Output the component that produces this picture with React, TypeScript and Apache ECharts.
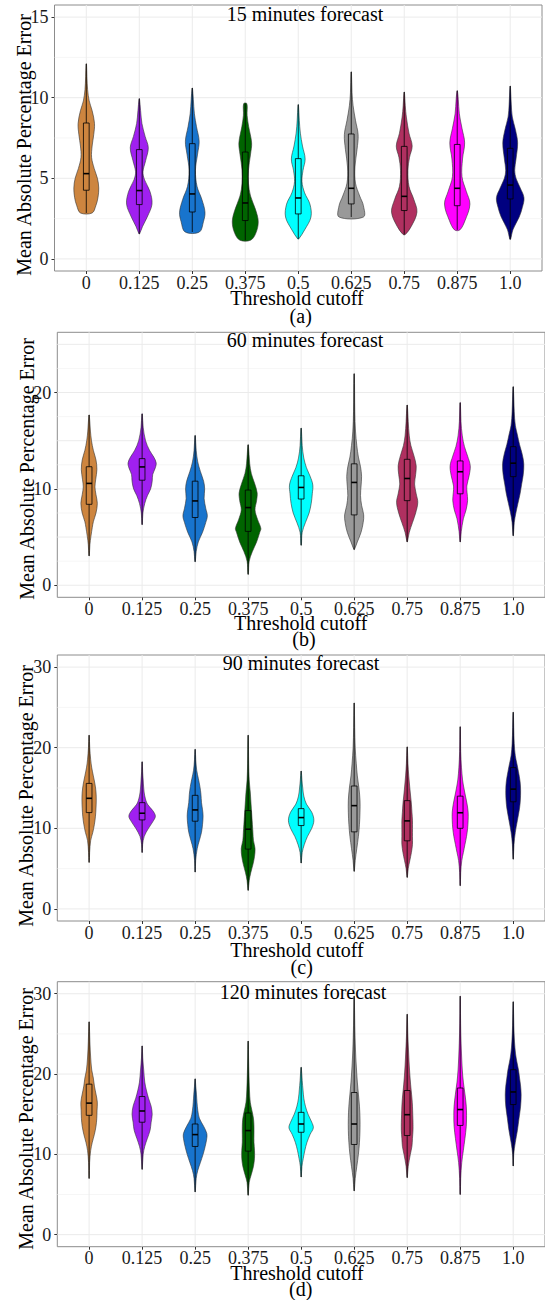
import React, { useEffect, useRef } from "react";
import * as echarts from "echarts";

const categories = ["0", "0.125", "0.25", "0.375", "0.5", "0.625", "0.75", "0.875", "1.0"];
const fills = ["#CD853F", "#A020F0", "#1874CD", "#006400", "#00FFFF", "#999999", "#B03060", "#FF00FF", "#000080"];

// box stats: [min, q1, median, q3, max]
const box15 = [
  [2.85, 4.26, 5.29, 8.43, 12.1],
  [1.55, 3.37, 4.24, 6.78, 9.94],
  [1.67, 2.91, 4.03, 7.15, 10.6],
  [1.16, 2.38, 3.47, 6.63, 9.63],
  [1.24, 2.79, 3.78, 6.22, 9.57],
  [2.6, 3.41, 4.38, 7.75, 11.6],
  [1.51, 3.0, 3.88, 6.98, 10.35],
  [1.8, 3.3, 4.38, 7.1, 10.43],
  [1.22, 3.72, 4.58, 6.86, 10.72],
];
// violin profiles: [value, half-width in category units]
const shape15 = [
  [[2.85, 0.11], [3.3, 0.18], [3.8, 0.22], [4.4, 0.235], [5.0, 0.21], [5.6, 0.15], [6.3, 0.1], [7.0, 0.11], [7.7, 0.14], [8.4, 0.155], [9.2, 0.11], [9.8, 0.055], [10.5, 0.025], [11.3, 0.012], [12.1, 0.004]],
  [[1.55, 0.005], [2.0, 0.06], [2.6, 0.15], [3.4, 0.24], [4.2, 0.2], [4.9, 0.1], [5.4, 0.07], [6.1, 0.12], [6.9, 0.17], [7.6, 0.11], [8.4, 0.05], [9.2, 0.025], [9.94, 0.004]],
  [[1.67, 0.135], [2.3, 0.21], [2.9, 0.24], [3.7, 0.18], [4.5, 0.09], [5.5, 0.06], [6.5, 0.1], [7.3, 0.13], [8.2, 0.08], [9.0, 0.04], [9.9, 0.02], [10.6, 0.004]],
  [[1.16, 0.1], [1.6, 0.2], [2.3, 0.245], [3.0, 0.2], [3.9, 0.1], [4.7, 0.06], [5.5, 0.06], [6.5, 0.1], [7.2, 0.12], [8.2, 0.065], [8.9, 0.035], [9.63, 0.03]],
  [[1.24, 0.01], [1.8, 0.12], [2.6, 0.24], [3.4, 0.22], [4.1, 0.12], [4.8, 0.07], [5.5, 0.09], [6.2, 0.13], [7.0, 0.08], [7.8, 0.04], [8.6, 0.02], [9.57, 0.004]],
  [[2.6, 0.23], [3.3, 0.23], [3.9, 0.16], [4.7, 0.08], [5.7, 0.07], [6.8, 0.11], [7.7, 0.13], [8.6, 0.08], [9.5, 0.035], [10.3, 0.015], [11.6, 0.004]],
  [[1.51, 0.02], [2.0, 0.13], [2.9, 0.24], [3.7, 0.18], [4.5, 0.09], [5.5, 0.07], [6.3, 0.1], [7.0, 0.15], [7.8, 0.09], [8.8, 0.04], [9.5, 0.02], [10.35, 0.004]],
  [[1.8, 0.05], [2.4, 0.15], [3.4, 0.24], [4.2, 0.17], [5.1, 0.09], [6.2, 0.1], [7.2, 0.14], [8.1, 0.09], [9.0, 0.04], [9.9, 0.02], [10.43, 0.004]],
  [[1.22, 0.008], [1.8, 0.05], [2.6, 0.17], [3.2, 0.23], [3.8, 0.26], [4.4, 0.19], [5.0, 0.11], [5.5, 0.085], [6.2, 0.11], [7.2, 0.14], [8.0, 0.1], [8.8, 0.04], [9.6, 0.02], [10.72, 0.004]],
];

const box60 = [
  [3.05, 8.4, 10.57, 12.3, 17.67],
  [6.28, 10.9, 12.28, 13.14, 17.77],
  [2.44, 7.03, 8.75, 10.8, 15.54],
  [1.13, 5.59, 8.06, 9.88, 14.58],
  [4.15, 8.95, 10.15, 11.36, 16.3],
  [3.7, 7.3, 10.67, 12.6, 21.95],
  [4.5, 8.78, 11.08, 13.07, 18.7],
  [4.5, 9.49, 11.78, 12.9, 18.95],
  [5.14, 11.27, 12.67, 14.38, 20.6],
];
const shape60 = [
  [[3.05, 0.004], [4.2, 0.015], [5.1, 0.035], [6.0, 0.06], [6.6, 0.08], [7.5, 0.13], [8.5, 0.155], [9.4, 0.13], [10.2, 0.11], [11.0, 0.125], [12.0, 0.147], [13.0, 0.13], [14.0, 0.08], [15.0, 0.045], [16.0, 0.025], [17.67, 0.004]],
  [[6.3, 0.004], [7.5, 0.015], [8.5, 0.05], [9.3, 0.1], [10.0, 0.16], [10.8, 0.19], [11.5, 0.2], [12.2, 0.25], [12.7, 0.265], [13.3, 0.22], [14.0, 0.14], [15.0, 0.065], [16.4, 0.02], [17.8, 0.004]],
  [[2.44, 0.004], [3.5, 0.02], [4.5, 0.06], [5.5, 0.14], [6.5, 0.2], [7.2, 0.23], [8.0, 0.2], [9.0, 0.17], [10.0, 0.18], [10.8, 0.16], [11.8, 0.1], [12.8, 0.05], [14.0, 0.02], [15.54, 0.004]],
  [[1.13, 0.004], [2.5, 0.02], [3.5, 0.08], [4.5, 0.16], [5.5, 0.22], [5.9, 0.24], [6.8, 0.18], [7.8, 0.13], [8.8, 0.16], [9.6, 0.17], [10.6, 0.12], [11.6, 0.06], [12.6, 0.03], [14.58, 0.004]],
  [[4.15, 0.004], [5.5, 0.02], [6.5, 0.08], [7.5, 0.15], [8.5, 0.19], [9.5, 0.21], [10.4, 0.22], [11.3, 0.17], [12.2, 0.1], [13.2, 0.05], [14.5, 0.02], [16.3, 0.004]],
  [[3.7, 0.004], [4.5, 0.06], [5.5, 0.13], [6.5, 0.17], [7.3, 0.18], [8.3, 0.14], [9.3, 0.12], [10.3, 0.13], [11.3, 0.14], [12.3, 0.12], [13.3, 0.08], [14.5, 0.05], [16.0, 0.025], [18.0, 0.012], [21.95, 0.004]],
  [[4.5, 0.004], [5.5, 0.04], [6.5, 0.1], [7.5, 0.16], [8.6, 0.2], [9.5, 0.17], [10.5, 0.14], [11.5, 0.16], [12.4, 0.17], [13.4, 0.13], [14.5, 0.07], [15.5, 0.04], [17.0, 0.02], [18.7, 0.004]],
  [[4.5, 0.004], [5.55, 0.02], [6.9, 0.06], [7.8, 0.11], [8.8, 0.14], [9.6, 0.13], [10.3, 0.125], [11.4, 0.17], [12.4, 0.19], [13.4, 0.14], [14.4, 0.08], [15.5, 0.04], [17.0, 0.015], [18.95, 0.004]],
  [[5.14, 0.004], [6.5, 0.02], [7.5, 0.05], [8.5, 0.09], [9.5, 0.13], [10.5, 0.16], [11.5, 0.19], [12.6, 0.2], [13.6, 0.17], [14.6, 0.12], [15.6, 0.08], [16.6, 0.04], [18.0, 0.02], [20.6, 0.004]],
];

const box90 = [
  [5.77, 11.95, 13.72, 15.57, 21.55],
  [7.0, 11.04, 11.87, 13.18, 18.25],
  [4.57, 10.88, 12.28, 14.09, 19.8],
  [2.3, 7.42, 9.89, 12.2, 21.55],
  [5.69, 10.34, 11.33, 12.44, 17.1],
  [4.66, 9.56, 12.81, 15.25, 25.55],
  [3.91, 8.45, 10.92, 13.43, 20.1],
  [2.88, 10.0, 11.93, 13.99, 22.6],
  [6.17, 13.29, 14.86, 17.53, 24.4],
];
const shape90 = [
  [[5.77, 0.003], [7.0, 0.01], [8.5, 0.03], [9.5, 0.07], [10.5, 0.1], [11.5, 0.12], [12.5, 0.13], [13.5, 0.135], [14.5, 0.13], [15.5, 0.11], [16.5, 0.08], [17.5, 0.05], [18.5, 0.03], [20.0, 0.012], [21.55, 0.003]],
  [[7.0, 0.003], [8.0, 0.01], [9.0, 0.04], [10.0, 0.12], [10.8, 0.2], [11.5, 0.25], [12.2, 0.2], [13.0, 0.1], [14.0, 0.05], [15.0, 0.03], [16.0, 0.02], [17.0, 0.01], [18.25, 0.003]],
  [[4.57, 0.003], [6.0, 0.01], [7.5, 0.04], [8.5, 0.08], [9.5, 0.12], [10.5, 0.14], [11.5, 0.15], [12.3, 0.14], [13.2, 0.12], [14.2, 0.11], [15.2, 0.09], [16.2, 0.06], [17.2, 0.03], [18.5, 0.012], [19.8, 0.003]],
  [[2.3, 0.003], [3.5, 0.02], [4.5, 0.05], [5.5, 0.09], [6.5, 0.12], [7.5, 0.13], [8.5, 0.1], [9.5, 0.09], [10.5, 0.08], [11.5, 0.07], [12.5, 0.06], [13.5, 0.05], [14.5, 0.04], [16.0, 0.02], [18.0, 0.01], [21.55, 0.003]],
  [[5.69, 0.003], [7.0, 0.02], [8.0, 0.06], [9.0, 0.12], [10.0, 0.2], [11.0, 0.24], [12.0, 0.2], [13.0, 0.1], [14.0, 0.05], [15.0, 0.03], [16.0, 0.015], [17.1, 0.003]],
  [[4.66, 0.003], [6.0, 0.02], [7.5, 0.05], [9.0, 0.08], [10.5, 0.1], [12.0, 0.11], [13.5, 0.11], [15.0, 0.09], [16.5, 0.06], [18.0, 0.04], [20.0, 0.02], [22.5, 0.01], [25.55, 0.003]],
  [[3.91, 0.003], [5.0, 0.02], [6.0, 0.05], [7.0, 0.08], [8.0, 0.1], [9.0, 0.1], [10.0, 0.1], [11.0, 0.1], [12.0, 0.09], [13.0, 0.08], [14.0, 0.065], [15.0, 0.05], [16.5, 0.03], [18.0, 0.015], [20.1, 0.003]],
  [[2.88, 0.003], [4.5, 0.01], [6.0, 0.03], [7.0, 0.06], [8.0, 0.09], [9.0, 0.12], [10.0, 0.14], [11.0, 0.15], [12.0, 0.15], [13.0, 0.13], [14.0, 0.1], [15.0, 0.07], [16.0, 0.045], [17.5, 0.025], [19.5, 0.01], [22.6, 0.003]],
  [[6.17, 0.003], [8.0, 0.015], [9.5, 0.04], [11.0, 0.08], [12.5, 0.12], [13.5, 0.135], [14.7, 0.14], [15.8, 0.13], [17.0, 0.1], [18.0, 0.07], [19.0, 0.04], [20.5, 0.02], [22.5, 0.01], [24.4, 0.003]],
];

const box120 = [
  [7.0, 14.86, 16.38, 18.74, 26.5],
  [8.13, 14.0, 15.4, 17.2, 23.5],
  [5.32, 10.98, 12.46, 13.78, 19.4],
  [4.91, 10.4, 12.96, 15.15, 24.1],
  [7.18, 12.75, 13.78, 15.23, 20.84],
  [5.45, 11.23, 13.78, 17.7, 29.7],
  [7.1, 12.34, 14.94, 17.95, 27.45],
  [5.0, 13.6, 15.58, 18.26, 29.7],
  [8.55, 16.2, 17.77, 20.54, 29.0],
];
const shape120 = [
  [[7.0, 0.003], [9.0, 0.01], [10.5, 0.03], [11.5, 0.06], [12.5, 0.1], [13.5, 0.13], [14.5, 0.145], [15.5, 0.15], [16.5, 0.155], [17.5, 0.13], [18.5, 0.1], [19.5, 0.08], [20.5, 0.05], [22.0, 0.03], [24.0, 0.015], [26.5, 0.003]],
  [[8.13, 0.003], [10.0, 0.02], [11.0, 0.05], [12.0, 0.1], [13.0, 0.15], [14.0, 0.17], [15.0, 0.19], [16.0, 0.17], [17.0, 0.12], [18.0, 0.08], [19.0, 0.05], [20.5, 0.03], [22.0, 0.012], [23.5, 0.003]],
  [[5.32, 0.003], [7.0, 0.02], [8.0, 0.05], [9.0, 0.1], [10.0, 0.15], [11.0, 0.19], [12.0, 0.22], [12.6, 0.22], [13.5, 0.16], [14.5, 0.08], [15.5, 0.05], [16.5, 0.035], [17.5, 0.025], [18.5, 0.012], [19.4, 0.003]],
  [[4.91, 0.003], [6.5, 0.02], [7.5, 0.06], [8.5, 0.1], [9.5, 0.12], [10.5, 0.12], [11.5, 0.11], [12.5, 0.11], [13.5, 0.11], [14.5, 0.1], [15.5, 0.07], [16.5, 0.04], [18.0, 0.025], [20.0, 0.015], [22.0, 0.008], [24.1, 0.003]],
  [[7.18, 0.003], [8.5, 0.015], [9.5, 0.04], [10.5, 0.07], [11.5, 0.11], [12.5, 0.17], [13.3, 0.23], [14.0, 0.2], [15.0, 0.13], [16.0, 0.08], [17.0, 0.05], [18.0, 0.035], [19.2, 0.02], [20.84, 0.003]],
  [[5.45, 0.003], [7.0, 0.02], [8.5, 0.05], [10.0, 0.08], [11.5, 0.1], [13.0, 0.11], [14.5, 0.11], [16.0, 0.1], [17.5, 0.08], [19.0, 0.06], [21.0, 0.04], [23.0, 0.025], [26.0, 0.012], [29.7, 0.003]],
  [[7.1, 0.003], [8.5, 0.02], [10.0, 0.06], [11.0, 0.09], [12.0, 0.1], [13.0, 0.11], [14.0, 0.11], [15.0, 0.105], [16.0, 0.1], [17.0, 0.09], [18.0, 0.075], [19.5, 0.055], [21.0, 0.04], [23.0, 0.025], [25.0, 0.012], [27.45, 0.003]],
  [[5.0, 0.003], [7.0, 0.01], [9.0, 0.03], [10.5, 0.06], [12.0, 0.09], [13.5, 0.115], [14.8, 0.12], [16.0, 0.115], [17.5, 0.09], [19.0, 0.06], [20.5, 0.04], [22.5, 0.025], [25.0, 0.012], [27.5, 0.006], [29.7, 0.003]],
  [[8.55, 0.003], [10.0, 0.01], [11.5, 0.04], [13.0, 0.08], [14.5, 0.11], [16.0, 0.14], [17.4, 0.15], [18.5, 0.14], [19.5, 0.12], [20.5, 0.1], [21.5, 0.07], [22.5, 0.045], [24.0, 0.025], [26.0, 0.012], [29.0, 0.003]],
];

const titles = ["15 minutes forecast", "60 minutes forecast", "90 minutes forecast", "120 minutes forecast"];
const panelTags = ["(a)", "(b)", "(c)", "(d)"];
const yLabels = [[0, 5, 10, 15], [0, 10, 20], [0, 10, 20, 30], [0, 10, 20, 30]];
const yMajor = [[0, 5, 10, 15], [0, 5, 10, 15, 20, 25], [0, 10, 20, 30], [0, 10, 20, 30]];
const yMinor = [[2.5, 7.5, 12.5], [2.5, 7.5, 12.5, 17.5, 22.5], [5, 15, 25], [5, 15, 25]];
const yRange = [[-0.75, 15.75], [-1.25, 26.25], [-1.5, 31.5], [-1.5, 31.5]];

const boxes = [box15, box60, box90, box120];
const shapes = [shape15, shape60, shape90, shape120];

// layout (pixels)
const gridBoxes = [
  { left: 54.5, top: 5, width: 487.5, height: 266 },
  { left: 57.3, top: 332.3, width: 490, height: 265 },
  { left: 57.3, top: 655, width: 490, height: 266 },
  { left: 57.3, top: 981.7, width: 490, height: 265 },
];
const titlePos = [[305, 14], [305, 340], [301, 662.7], [303, 991.5]];
const xTitlePos = [[297, 297.5], [300.7, 622.7], [297, 950], [297, 1273.3]];
const tagPos = [[300.7, 316.3], [304, 638.5], [301.7, 967.3], [300.7, 1289]];
const yTitlePos = [[24, 145], [27, 469], [26, 796], [26, 1119]];

const FONT = '"Liberation Serif", "Times New Roman", serif';

function makeViolinRender(shape: number[][][]) {
  return (params: any, api: any) => {
    const i = api.value(0);
    const prof = shape[i];
    const unit = api.size([1, 0])[0];
    const cx = api.coord([i, 0])[0];
    const right = prof.map((p) => [cx + p[1] * unit, api.coord([i, p[0]])[1]]);
    const left = prof
      .slice()
      .reverse()
      .map((p) => [cx - p[1] * unit, api.coord([i, p[0]])[1]]);
    const yMin = api.coord([i, api.value(1)])[1];
    const yQ1 = api.coord([i, api.value(2)])[1];
    const yMed = api.coord([i, api.value(3)])[1];
    const yQ3 = api.coord([i, api.value(4)])[1];
    const yMax = api.coord([i, api.value(5)])[1];
    const bw = 0.054 * unit;
    return {
      type: "group",
      children: [
        {
          type: "polygon",
          shape: { points: right.concat(left), smooth: 0.35 },
          style: { fill: fills[i], stroke: "#333333", lineWidth: 0.6 },
        },
        {
          type: "line",
          shape: { x1: cx, y1: yMin, x2: cx, y2: yQ1 },
          style: { stroke: "#000", lineWidth: 0.8 },
        },
        {
          type: "line",
          shape: { x1: cx, y1: yQ3, x2: cx, y2: yMax },
          style: { stroke: "#000", lineWidth: 0.8 },
        },
        {
          type: "rect",
          shape: { x: cx - bw, y: yQ3, width: 2 * bw, height: yQ1 - yQ3 },
          style: { fill: "none", stroke: "#000", lineWidth: 0.8 },
        },
        {
          type: "line",
          shape: { x1: cx - bw, y1: yMed, x2: cx + bw, y2: yMed },
          style: { stroke: "#000", lineWidth: 1.6 },
        },
      ],
    };
  };
}

function gridRender(params: any, api: any) {
  const kind = api.value(0);
  const v = api.value(1);
  const cs = params.coordSys;
  if (kind < 2) {
    const y = api.coord([0, v])[1];
    return {
      type: "line",
      shape: { x1: cs.x, y1: y, x2: cs.x + cs.width, y2: y },
      style: { stroke: kind === 0 ? "#EBEBEB" : "#F2F2F2", lineWidth: kind === 0 ? 1 : 0.7 },
    };
  }
  const x = api.coord([v, 0])[0];
  return {
    type: "line",
    shape: { x1: x, y1: cs.y, x2: x, y2: cs.y + cs.height },
    style: { stroke: "#EBEBEB", lineWidth: 1 },
  };
}

export default function App() {
  const ref = useRef<HTMLDivElement>(null);
  useEffect(() => {
    if (!ref.current) return;
    const chart = echarts.init(ref.current, undefined, { renderer: "svg" });
    const catIdx = categories.map((_, i) => i);

    const grid = gridBoxes.map((g) => ({
      ...g,
      show: true,
      borderColor: "#8c8c8c",
      borderWidth: 1,
      backgroundColor: "#fff",
      containLabel: false,
    }));

    const xAxis = gridBoxes.map((_, p) => ({
      type: "value",
      gridIndex: p,
      position: "bottom",
      min: -0.6,
      max: 8.6,
      axisLine: { show: false, onZero: false },
      splitLine: { show: false },
      axisTick: { show: true, customValues: catIdx, length: 3, lineStyle: { color: "#333", width: 1 } },
      axisLabel: {
        customValues: catIdx,
        formatter: (v: number) => categories[Math.round(v)] ?? "",
        fontFamily: FONT,
        fontSize: 18,
        lineHeight: 15,
        color: "#1a1a1a",
        margin: 4,
      },
    }));

    const yAxis = gridBoxes.map((_, p) => ({
      type: "value",
      gridIndex: p,
      position: "left",
      min: yRange[p][0],
      max: yRange[p][1],
      axisLine: { show: false, onZero: false },
      splitLine: { show: false },
      axisTick: { show: true, customValues: yLabels[p], length: 3, lineStyle: { color: "#333", width: 1 } },
      axisLabel: {
        customValues: yLabels[p],
        fontFamily: FONT,
        fontSize: 18,
        lineHeight: 15,
        color: "#1a1a1a",
        margin: 6,
      },
    }));

    const series: any[] = [];
    gridBoxes.forEach((_, p) => {
      const gdata = [
        ...yMinor[p].map((v) => [1, v]),
        ...yMajor[p].map((v) => [0, v]),
        ...catIdx.map((i) => [2, i]),
      ];
      series.push({
        type: "custom",
        xAxisIndex: p,
        yAxisIndex: p,
        coordinateSystem: "cartesian2d",
        renderItem: gridRender,
        data: gdata,
        silent: true,
        z: 1,
      });
      series.push({
        type: "custom",
        xAxisIndex: p,
        yAxisIndex: p,
        coordinateSystem: "cartesian2d",
        renderItem: makeViolinRender(shapes[p]),
        encode: { x: 0, y: [1, 2, 3, 4, 5] },
        data: boxes[p].map((b, i) => [i, ...b]),
        silent: true,
        z: 2,
      });
    });

    const text = (t: string, x: number, y: number, size: number, rotate = 0) => ({
      type: "text",
      x,
      y,
      rotation: rotate,
      z: 10,
      style: {
        text: t,
        font: `${size}px ${FONT}`,
        fill: "#000",
        lineHeight: 15,
        align: "center",
        verticalAlign: "middle",
        textAlign: "center",
        textVerticalAlign: "middle",
      },
    });

    const graphic: any[] = [];
    gridBoxes.forEach((_, p) => {
      graphic.push(text(titles[p], titlePos[p][0], titlePos[p][1], 20));
      graphic.push(text("Threshold cutoff", xTitlePos[p][0], xTitlePos[p][1], 20));
      graphic.push(text(panelTags[p], tagPos[p][0], tagPos[p][1], 20));
      graphic.push(text("Mean Absolute Percentage Error", yTitlePos[p][0], yTitlePos[p][1], 20, Math.PI / 2));
    });

    chart.setOption({
      animation: false,
      backgroundColor: "#fff",
      textStyle: { fontFamily: FONT },
      grid,
      xAxis,
      yAxis,
      series,
      graphic,
    });
    return () => chart.dispose();
  }, []);

  return (
    <div
      ref={ref}
      style={{ position: "absolute", left: 0, top: 0, width: 545, height: 1300 }}
    />
  );
}
